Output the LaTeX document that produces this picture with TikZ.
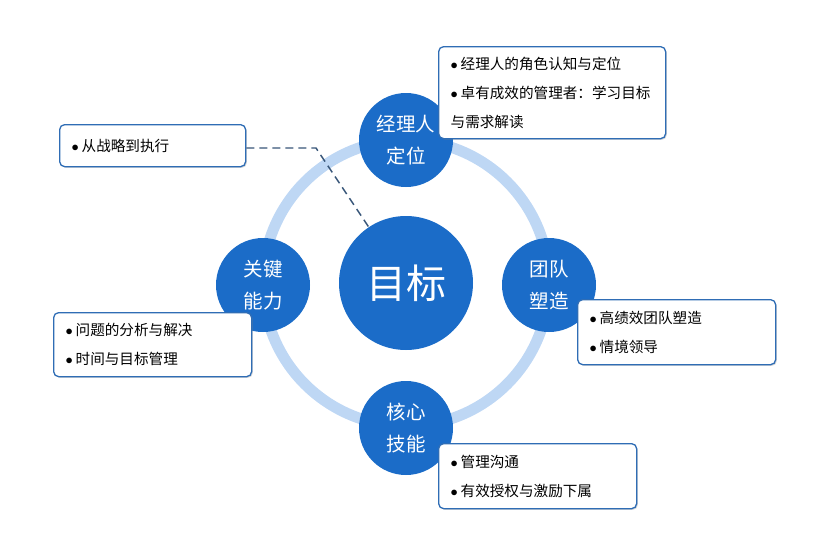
\documentclass[tikz,border=0pt]{standalone}
\usepackage{fontspec}
\setmainfont{Noto Sans CJK SC}
\usetikzlibrary{positioning,shadows}
\definecolor{goalblue}{RGB}{27,108,200}
\definecolor{ringblue}{RGB}{190,215,244}
\definecolor{boxblue}{RGB}{47,109,181}
\definecolor{dashslate}{RGB}{55,85,120}
\newcommand{\itm}{\makebox[10pt][l]{$\bullet$}}

\tikzset{
  goal/.style={circle, fill=goalblue, text=white, minimum size=134pt, inner sep=0pt,
    font=\fontsize{40}{44}\selectfont},
  skill/.style={circle, fill=goalblue, text=white, minimum size=94pt, inner sep=0pt,
    align=center, font=\fontsize{19.5}{32}\selectfont},
  notebox/.style={draw=boxblue, line width=1.3pt, rounded corners=5pt, fill=white,
    anchor=north west, align=left, inner xsep=12pt, inner ysep=0pt,
    font=\fontsize{14.6}{29}\selectfont,
    drop shadow={shadow xshift=1.2pt, shadow yshift=-1.2pt, opacity=0.3}},
}

\begin{document}
\begin{tikzpicture}[x=1pt, y=-1pt]
  \useasboundingbox (0,0) rectangle (825,533);

  % Ring
  \draw[ringblue, line width=11pt] (406,283) circle (143pt);
  \node[goal] (goal) at (406,283) {目标};

  % Satellites
  \node[skill] (role) at (406,140) {经理人\\定位};
  \node[skill] (team) at (549,285) {团队\\塑造};
  \node[skill] (core) at (406,428) {核心\\技能};
  \node[skill] (key) at (263,285) {关键\\能力};

  % Dashed link
  \node[notebox, minimum width=186pt, minimum height=42pt, text width=162pt] (exec) at (59,124)
    {\itm 从战略到执行};
  \coordinate (bend) at (316,148);
  \draw[dashslate, line width=1.4pt, dash pattern=on 8pt off 5pt]
    (exec.east |- bend) -- (bend) -- (goal);

  % Boxes
  \node[notebox, minimum width=227pt, minimum height=92pt, text width=203pt] (rolebox) at (438,46)
    {\itm 经理人的角色认知与定位\\\itm 卓有成效的管理者：学习目标\\与需求解读};
  \node[notebox, minimum width=198pt, minimum height=64pt, text width=174pt] (keybox) at (53,312)
    {\itm 问题的分析与解决\\\itm 时间与目标管理};
  \node[notebox, minimum width=198pt, minimum height=65pt, text width=174pt] (teambox) at (577,299)
    {\itm 高绩效团队塑造\\\itm 情境领导};
  \node[notebox, minimum width=198pt, minimum height=65pt, text width=174pt] (corebox) at (438,443)
    {\itm 管理沟通\\\itm 有效授权与激励下属};
\end{tikzpicture}
\end{document}
